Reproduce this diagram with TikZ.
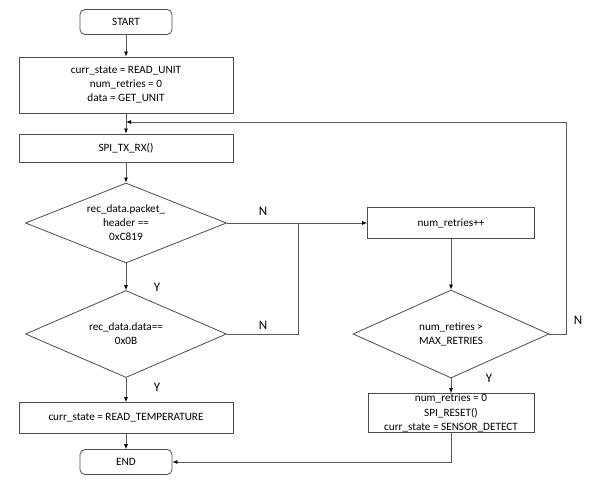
\documentclass[tikz,border=0pt]{standalone}
\usepackage{fontspec}
\setmainfont{Carlito}
\usetikzlibrary{shapes.geometric,arrows.meta}
\begin{document}
\begin{tikzpicture}[x=1pt,y=-1pt,
  line/.style={draw=black!65, line width=0.8pt},
  arr/.style={line, -{Latex[length=5pt,width=4pt,color=black]}},
  proc/.style={draw=black!70, line width=0.8pt, rectangle, inner sep=0pt, align=center, font=\fontsize{11.2}{14}\selectfont},
  term/.style={proc, rounded corners=5pt},
  dec/.style={draw=black!70, line width=0.8pt, diamond, inner sep=0pt, align=center, font=\fontsize{11.2}{14}\selectfont},
  lbl/.style={font=\fontsize{13}{15}\selectfont}]
\useasboundingbox (0,0) rectangle (602,484);
\node[term, minimum width=92pt, minimum height=25pt] (start) at (126,22) {START};
\node[proc, minimum width=214pt, minimum height=56pt] (init) at (126,85) {curr\_state = READ\_UNIT\\num\_retries = 0\\data = GET\_UNIT};
\node[proc, minimum width=214pt, minimum height=28pt] (spi) at (126,148) {SPI\_TX\_RX()};
\node[dec, aspect=2.5, minimum width=201pt, minimum height=80pt] (d1) at (126,223) {rec\_data.packet\_\\header ==\\0xC819};
\node[dec, aspect=2.3, minimum width=201pt, minimum height=87pt] (d2) at (126,334) {rec\_data.data==\\0x0B};
\node[proc, minimum width=214pt, minimum height=31pt] (temp) at (126,418) {curr\_state = READ\_TEMPERATURE};
\node[term, minimum width=92pt, minimum height=25pt] (end) at (126,462) {END};
\node[proc, minimum width=167pt, minimum height=31pt] (inc) at (451,223) {num\_retries++};
\node[dec, aspect=2.2, minimum width=196pt, minimum height=88pt] (d3) at (451,334) {num\_retires >\\MAX\_RETRIES};
\node[proc, minimum width=166pt, minimum height=39pt, font=\fontsize{11.2}{14.5}\selectfont] (reset) at (451,413) {num\_retries = 0\\SPI\_RESET()\\curr\_state = SENSOR\_DETECT};
\coordinate (j1) at (298,223);
\coordinate (fb) at (126,122);
\draw[arr] (start) -- (init);
\draw[line] (init) -- (fb);
\draw[arr] (fb) -- (spi);
\draw[arr] (spi) -- (d1);
\draw[arr] (d1) -- (d2);
\draw[arr] (d2) -- (temp);
\draw[arr] (temp) -- (end);
\draw[arr] (d1.east) -- (inc.west);
\draw[line] (d2.east) -| (j1);
\draw[arr] (inc) -- (d3);
\draw[arr] (d3) -- (reset);
\draw[arr] (d3.east) -| (566,122) -- (fb);
\draw[arr] (reset.south) |- (end.east);
\node[lbl] (y1) at (157,287) {Y};
\node[lbl] (y2) at (157,387) {Y};
\node[lbl] (n1) at (263,211) {N};
\node[lbl] (n2) at (263,325) {N};
\node[lbl] (n3) at (578,320) {N};
\node[lbl] (y3) at (489,378) {Y};
\end{tikzpicture}
\end{document}
